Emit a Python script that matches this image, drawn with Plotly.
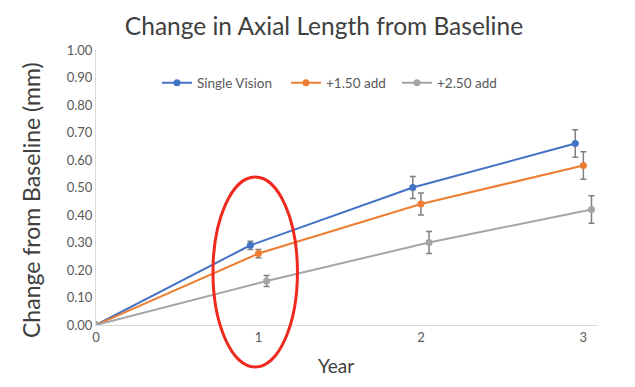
import plotly.graph_objects as go

years = [0, 1, 2, 3]
series_names = ["Single Vision", "+1.50 add", "+2.50 add"]
single_vision = [0.00, 0.29, 0.50, 0.66]
add_150 = [0.00, 0.26, 0.44, 0.58]
add_250 = [0.00, 0.16, 0.30, 0.42]
err_single = [0.0, 0.015, 0.04, 0.05]
err_150 = [0.0, 0.015, 0.04, 0.05]
err_250 = [0.0, 0.02, 0.04, 0.05]
x_tick_labels = ["0", "1", "2", "3"]

colors = ["#4472C4", "#ED7D31", "#A5A5A5"]
offsets = [-0.05, 0.0, 0.05]
values = [single_vision, add_150, add_250]
errors = [err_single, err_150, err_250]
legend_ids = ["legend", "legend2", "legend3"]
legend_x = [0.1215, 0.3785, 0.5996]

FONT = "Lato, Carlito, Calibri, sans-serif"
X_MAX = 3.09
W, H = 635, 387

fig = go.Figure()
for name, vals, errs, col, off, lg in zip(series_names, values, errors, colors, offsets, legend_ids):
    xs = [y + off if y > 0 else y for y in years]
    fig.add_trace(go.Scatter(
        x=xs, y=vals, name=name, mode="lines+markers",
        line=dict(color=col, width=2),
        marker=dict(color=col, size=7),
        error_y=dict(type="data", array=errs, color="#808080", thickness=1.5, width=3,
                     visible=True),
        legend=lg,
    ))

# red highlight ellipse around year 1 (paper coords so it is not clipped)
fig.add_shape(type="circle", xref="paper", yref="paper",
              x0=0.72 / X_MAX, x1=1.24 / X_MAX, y0=-0.153, y1=0.538,
              line=dict(color="#EE2A1E", width=3), layer="above")

legend_style = dict(orientation="h", y=0.88, xanchor="left", yanchor="middle",
                    font=dict(size=13.5, color="#595959"), bgcolor="rgba(0,0,0,0)",
                    itemwidth=30)

fig.update_layout(
    width=W, height=H,
    margin=dict(l=88, r=45, t=42, b=70),
    paper_bgcolor="white", plot_bgcolor="white",
    font=dict(family=FONT, color="#595959"),
    title=dict(text="Change in Axial Length from Baseline", x=0.4976, xref="container",
               y=1 - 18 / H, yref="container", xanchor="center", yanchor="middle",
               font=dict(size=24.5, color="#404040", family=FONT)),
    legend=dict(x=legend_x[0], **legend_style),
    legend2=dict(x=legend_x[1], **legend_style),
    legend3=dict(x=legend_x[2], **legend_style),
    showlegend=True,
    annotations=[
        dict(text="Change from Baseline (mm)", textangle=-90, xref="paper", yref="paper",
             x=-0.1295, y=0.4545, xanchor="center", yanchor="middle", showarrow=False,
             font=dict(size=23, color="#404040", family=FONT)),
        dict(text="Year", xref="paper", yref="paper", x=0.478, y=-0.1455,
             xanchor="center", yanchor="middle", showarrow=False,
             font=dict(size=19, color="#404040", family=FONT)),
    ],
)
fig.update_xaxes(range=[0, X_MAX], tickvals=years, ticktext=x_tick_labels, automargin=False,
                 showgrid=False, zeroline=False, showline=True, linecolor="#D9D9D9",
                 linewidth=1, ticks="", tickfont=dict(size=13, color="#595959"))
fig.update_yaxes(range=[0, 1.0], dtick=0.1, tickformat=".2f", automargin=False,
                 showgrid=False, zeroline=False, showline=True, linecolor="#D9D9D9",
                 linewidth=1, ticks="", tickfont=dict(size=13, color="#595959"))

fig.write_html("out.html")
